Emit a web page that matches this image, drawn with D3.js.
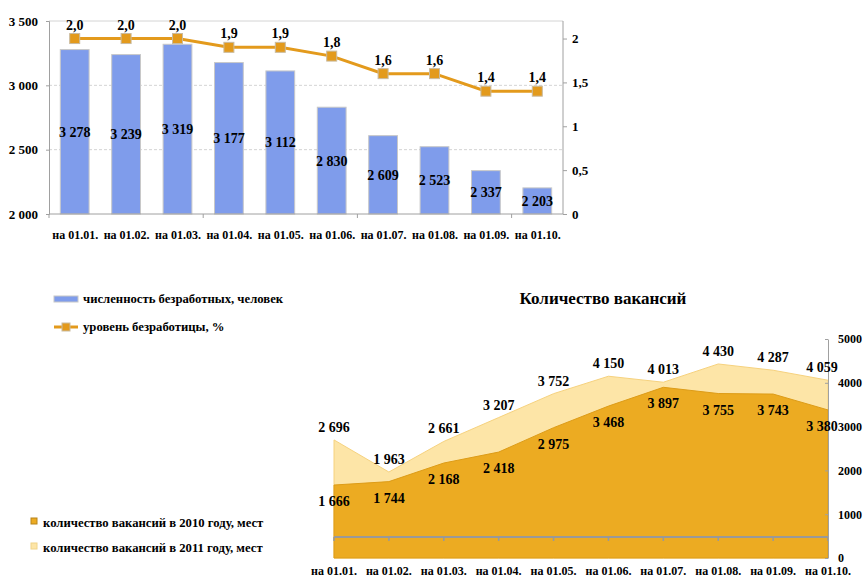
<!DOCTYPE html>
<html>
<head>
<meta charset="utf-8">
<script src="https://cdn.jsdelivr.net/npm/d3@7"></script>
<style>
  body { margin: 0; background: #fff; }
  text { font-family: "Liberation Serif", "Times New Roman", serif; font-weight: bold; fill: #000; }
</style>
</head>
<body>
<div id="chart"></div>
<script>
// categories shared by both charts
const months = ["на 01.01.", "на 01.02.", "на 01.03.", "на 01.04.", "на 01.05.",
                "на 01.06.", "на 01.07.", "на 01.08.", "на 01.09.", "на 01.10."];

// top chart: unemployed count (bars) and unemployment rate (line)
const unemployed = [3278, 3239, 3319, 3177, 3112, 2830, 2609, 2523, 2337, 2203];
const unemploymentRate = [2.0, 2.0, 2.0, 1.9, 1.9, 1.8, 1.6, 1.6, 1.4, 1.4];
const leftTicks = [2000, 2500, 3000, 3500];
const rightTicks = [0, 0.5, 1, 1.5, 2];

// bottom chart: vacancies
const vacancies2010 = [1666, 1744, 2168, 2418, 2975, 3468, 3897, 3755, 3743, 3380];
const vacancies2011 = [2696, 1963, 2661, 3207, 3752, 4150, 4013, 4430, 4287, 4059];
const vacancyTicks = [0, 1000, 2000, 3000, 4000, 5000];

const legendTop = ["численность безработных, человек", "уровень безработицы, %"];
const legendBottom = ["количество вакансий в 2010 году, мест", "количество вакансий в 2011 году, мест"];
const vacancyTitle = "Количество вакансий";

const ru = d3.formatLocale({decimal: ",", thousands: " ", grouping: [3], currency: ["", ""]});
const fmtInt = ru.format(",d");
const fmtRate = ru.format(".1f");
const fmtAxisRate = v => String(v).replace(".", ",");

const svg = d3.select("#chart").append("svg")
  .attr("width", 864).attr("height", 577);

// ---------- top chart ----------
const box = {left: 49, right: 563, top: 21, bottom: 214};

const xBand = d3.scaleBand().domain(months).range([box.left, box.right]).paddingInner(0.44).paddingOuter(0.22);
const yLeft = d3.scaleLinear().domain([2000, 3500]).range([box.bottom, box.top]);
const yRight = d3.scaleLinear().domain([0, 2.2]).range([box.bottom, box.top]);

// gridlines
svg.append("g").selectAll("line")
  .data(leftTicks.slice(1))
  .join("line")
  .attr("x1", box.left).attr("x2", box.right)
  .attr("y1", d => yLeft(d)).attr("y2", d => yLeft(d))
  .attr("stroke", "#d4d4d4").attr("stroke-dasharray", d => d === 3500 ? null : "3,2");

// bars
svg.append("g").selectAll("rect")
  .data(unemployed)
  .join("rect")
  .attr("x", (d, i) => xBand(months[i]))
  .attr("width", xBand.bandwidth())
  .attr("y", d => yLeft(d))
  .attr("height", d => yLeft(2000) - yLeft(d))
  .attr("fill", "#7f9ceb")
  .attr("stroke", "#c8c8c8").attr("stroke-width", 1);

svg.append("g").selectAll("text")
  .data(unemployed)
  .join("text")
  .attr("x", (d, i) => xBand(months[i]) + xBand.bandwidth() / 2)
  .attr("y", d => (yLeft(d) + yLeft(2000)) / 2 + 5)
  .attr("text-anchor", "middle")
  .style("font-size", "14px")
  .text(d => fmtInt(d));

// left axis
const gLeft = svg.append("g")
  .attr("transform", `translate(${box.left},0)`)
  .call(d3.axisLeft(yLeft).tickValues(leftTicks).tickFormat(fmtInt).tickSize(3).tickPadding(8));
gLeft.selectAll("text").style("font-size", "13px");

// right axis
const gRight = svg.append("g")
  .attr("transform", `translate(${box.right},0)`)
  .call(d3.axisRight(yRight).tickValues(rightTicks).tickFormat(fmtAxisRate).tickSize(4).tickPadding(5));
gRight.selectAll("text").style("font-size", "13px");
gRight.select(".domain").attr("d", `M0,${box.top}V${box.bottom}`);

// bottom axis
const xPos = d3.scalePoint().domain(months).range([box.left, box.right]).padding(0.5);
const gBottom = svg.append("g")
  .attr("transform", `translate(0,${box.bottom})`)
  .call(d3.axisBottom(xPos).tickSize(0).tickPadding(16));
gBottom.selectAll("text").style("font-size", "12px");
gBottom.select(".domain").attr("d", `M${box.left},0H${box.right}`);
gBottom.append("g").selectAll("line")
  .data([0, 3, 6, 9])
  .join("line")
  .attr("x1", i => xBand.step() * i + box.left).attr("x2", i => xBand.step() * i + box.left)
  .attr("y1", 0).attr("y2", 4)
  .attr("stroke", "#a0a0a0");

[gLeft, gRight, gBottom].forEach(g => {
  g.select(".domain").attr("stroke", "#a0a0a0");
  g.selectAll(".tick line").attr("stroke", "#a0a0a0");
});

// rate line
const cx = i => xBand(months[i]) + xBand.bandwidth() / 2;
svg.append("path")
  .datum(unemploymentRate)
  .attr("fill", "none")
  .attr("stroke", "#e39a1c")
  .attr("stroke-width", 3)
  .attr("d", d3.line().x((d, i) => cx(i)).y(d => yRight(d)));

svg.append("g").selectAll("rect")
  .data(unemploymentRate)
  .join("rect")
  .attr("x", (d, i) => cx(i) - 5).attr("y", d => yRight(d) - 5)
  .attr("width", 10).attr("height", 10)
  .attr("fill", "#e39a1c").attr("stroke", "#c9bba0");

svg.append("g").selectAll("text")
  .data(unemploymentRate)
  .join("text")
  .attr("x", (d, i) => cx(i))
  .attr("y", d => yRight(d) - 9)
  .attr("text-anchor", "middle")
  .style("font-size", "14px")
  .text(d => fmtRate(d));

// top legend
const lg = svg.append("g");
lg.append("rect").attr("x", 54).attr("y", 296).attr("width", 24).attr("height", 6)
  .attr("fill", "#7f9ceb").attr("stroke", "#c8c8c8");
lg.append("line").attr("x1", 54).attr("x2", 78).attr("y1", 327).attr("y2", 327)
  .attr("stroke", "#e39a1c").attr("stroke-width", 3);
lg.append("rect").attr("x", 62).attr("y", 323).attr("width", 8).attr("height", 8)
  .attr("fill", "#e39a1c").attr("stroke", "#c9bba0");
lg.selectAll("text.leg")
  .data(legendTop)
  .join("text")
  .attr("x", 83).attr("y", (d, i) => 303 + i * 28)
  .style("font-size", "12.7px")
  .text(d => d);

// ---------- bottom chart ----------
const bot = {left: 334, right: 828, top: 339, bottom: 558, floor: 537};
const xArea = d3.scalePoint().domain(months).range([bot.left, bot.right]);
const yArea = d3.scaleLinear().domain([0, 5000]).range([bot.bottom, bot.top]);

const area = d3.area()
  .x((d, i) => xArea(months[i]))
  .y0(yArea(0))
  .y1(d => yArea(d));

svg.append("path").datum(vacancies2011)
  .attr("fill", "#fde5a7").attr("stroke", "#f6d27e").attr("stroke-width", 1)
  .attr("d", area);
svg.append("path").datum(vacancies2010)
  .attr("fill", "#ecab22").attr("stroke", "#dd9c18").attr("stroke-width", 1)
  .attr("d", area);

// floor line with ticks
svg.append("line")
  .attr("x1", bot.left).attr("x2", bot.right)
  .attr("y1", bot.floor).attr("y2", bot.floor)
  .attr("stroke", "#999").attr("stroke-width", 2);
svg.append("g").selectAll("line")
  .data(months)
  .join("line")
  .attr("x1", d => xArea(d)).attr("x2", d => xArea(d))
  .attr("y1", bot.floor).attr("y2", bot.floor + 4)
  .attr("stroke", "#999").attr("stroke-width", 1.5);

// right axis
const gVac = svg.append("g")
  .attr("transform", `translate(${bot.right},0)`)
  .call(d3.axisRight(yArea).tickValues(vacancyTicks).tickFormat(d3.format("d")).tickSizeInner(3).tickSizeOuter(0).tickPadding(7));
gVac.selectAll("text").style("font-size", "12px");
gVac.select(".domain").attr("stroke", "#a0a0a0");
gVac.selectAll(".tick line").attr("stroke", "#a0a0a0").attr("x1", -3).attr("x2", 0);

// x labels
svg.append("g").selectAll("text")
  .data(months)
  .join("text")
  .attr("x", d => xArea(d))
  .attr("y", 575)
  .attr("text-anchor", "middle")
  .style("font-size", "12px")
  .text(d => d);

// data labels
const lastShift = i => i === months.length - 1 ? -6 : 0;
svg.append("g").selectAll("text")
  .data(vacancies2011)
  .join("text")
  .attr("x", (d, i) => xArea(months[i]) + lastShift(i))
  .attr("y", d => yArea(d) - 8)
  .attr("text-anchor", "middle")
  .style("font-size", "14px")
  .text(d => fmtInt(d));
svg.append("g").selectAll("text")
  .data(vacancies2010)
  .join("text")
  .attr("x", (d, i) => xArea(months[i]) + lastShift(i))
  .attr("y", d => yArea(d) + 21)
  .attr("text-anchor", "middle")
  .style("font-size", "14px")
  .text(d => fmtInt(d));

// title
svg.append("text")
  .attr("x", 603).attr("y", 304)
  .attr("text-anchor", "middle")
  .style("font-size", "17px")
  .text(vacancyTitle);

// bottom legend
const lb = svg.append("g");
lb.selectAll("rect")
  .data(["#ecab22", "#fde5a7"])
  .join("rect")
  .attr("x", 31).attr("y", (d, i) => 518 + i * 25)
  .attr("width", 6).attr("height", 6)
  .attr("fill", d => d).attr("stroke", (d, i) => i === 0 ? "#b8841a" : "#f0d48a");
lb.selectAll("text")
  .data(legendBottom)
  .join("text")
  .attr("x", 43).attr("y", (d, i) => 527 + i * 25)
  .style("font-size", "12.7px")
  .text(d => d);
</script>
</body>
</html>
